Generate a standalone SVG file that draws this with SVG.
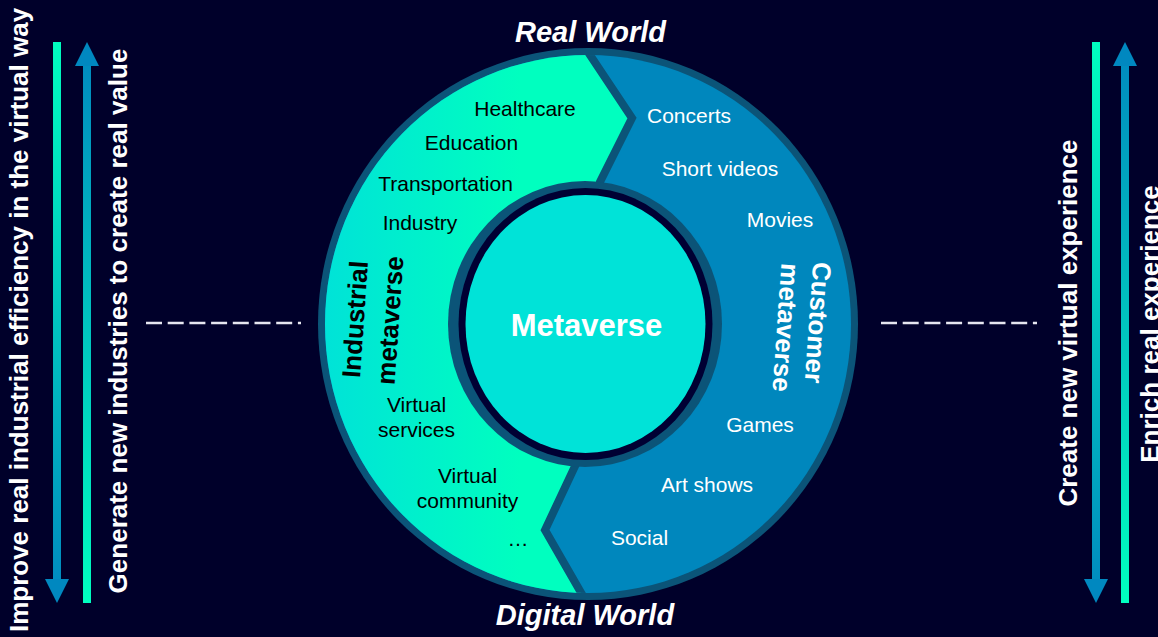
<svg xmlns="http://www.w3.org/2000/svg" width="1158" height="637" viewBox="0 0 1158 637">
<defs>
<style>
.t{font-family:"Liberation Sans",Arial,sans-serif;}
.side{font-size:26px;font-weight:bold;fill:#ffffff;text-anchor:middle;}
.world{font-size:29px;font-weight:bold;font-style:italic;fill:#ffffff;text-anchor:middle;}
.gl{font-size:21px;fill:#000000;text-anchor:middle;}
.bl{font-size:21px;fill:#ffffff;text-anchor:middle;}
.seg{font-size:26px;font-weight:bold;text-anchor:middle;}
.dash{stroke:#e6e6f0;stroke-width:2.5;stroke-dasharray:16 5.7;fill:none;}
.div{stroke:#0b5478;stroke-width:8;fill:none;stroke-linejoin:miter;}
</style>
<linearGradient id="gDown" gradientUnits="userSpaceOnUse" x1="0" y1="42" x2="0" y2="603">
<stop offset="0" stop-color="#00ffc0"/><stop offset="1" stop-color="#0088c0"/>
</linearGradient>
<linearGradient id="gUp" gradientUnits="userSpaceOnUse" x1="0" y1="42" x2="0" y2="603">
<stop offset="0" stop-color="#0088c0"/><stop offset="1" stop-color="#00ffc0"/>
</linearGradient>
<linearGradient id="green" gradientUnits="userSpaceOnUse" x1="320" y1="0" x2="520" y2="0">
<stop offset="0" stop-color="#00e2d8"/><stop offset="1" stop-color="#00ffbf"/>
</linearGradient>
<clipPath id="disc"><ellipse cx="588" cy="324" rx="263" ry="269"/></clipPath>
</defs>
<rect width="1158" height="637" fill="#00002a"/>

<g id="left-arrows">
<rect x="53" y="42" width="8" height="540" fill="url(#gDown)"/>
<polygon points="45,579 69,579 57,603" fill="#0088c0"/>
<rect x="83" y="64" width="8" height="539" fill="url(#gUp)"/>
<polygon points="75,66 99,66 87,42" fill="#0088c0"/>
<text class="t side" transform="translate(28,320) rotate(-90)">Improve real industrial efficiency in the virtual way</text>
<text class="t side" transform="translate(127,321) rotate(-90)">Generate new industries to create real value</text>
</g>

<g id="right-arrows">
<rect x="1092" y="42" width="8" height="540" fill="url(#gDown)"/>
<polygon points="1084,579 1108,579 1096,603" fill="#0088c0"/>
<rect x="1121" y="64" width="8" height="539" fill="url(#gUp)"/>
<polygon points="1113,66 1137,66 1125,42" fill="#0088c0"/>
<text class="t side" transform="translate(1077,323) rotate(-90)">Create new virtual experience</text>
<text class="t side" transform="translate(1159,324) rotate(-90)">Enrich real experience</text>
</g>

<g id="connectors">
<line class="dash" x1="146" y1="323" x2="301" y2="323"/>
<line class="dash" x1="881" y1="323" x2="1037" y2="323"/>
</g>

<g id="ring">
<ellipse cx="588" cy="324" rx="270" ry="276" fill="#0b5478"/>
<ellipse cx="588" cy="324" rx="263" ry="269" fill="#0087bd"/>
<g clip-path="url(#disc)">
<polygon points="0,40 580,40 632,118 600,182 590,324 577,462 545,530 591,610 0,610" fill="url(#green)"/>
<polyline class="div" points="580,40 632,118 600,182 595,230"/>
<polyline class="div" points="582,420 577,462 545,530 591,610"/>
</g>
</g>

<g id="industrial">
<text class="t gl" x="525" y="116">Healthcare</text>
<text class="t gl" x="471.5" y="150">Education</text>
<text class="t gl" x="445.5" y="191">Transportation</text>
<text class="t gl" x="420" y="230">Industry</text>
<text class="t gl" x="416.5" y="412">Virtual</text>
<text class="t gl" x="416.5" y="437">services</text>
<text class="t gl" x="467.5" y="483">Virtual</text>
<text class="t gl" x="467.5" y="508">community</text>
<text class="t gl" x="518" y="546">…</text>
<text class="t seg" fill="#000" transform="translate(364,320) rotate(-86)">Industrial</text>
<text class="t seg" fill="#000" transform="translate(399,321) rotate(-86)">metaverse</text>
</g>

<g id="customer">
<text class="t bl" x="689" y="123">Concerts</text>
<text class="t bl" x="720" y="176">Short videos</text>
<text class="t bl" x="780" y="227">Movies</text>
<text class="t bl" x="760" y="432">Games</text>
<text class="t bl" x="707" y="492">Art shows</text>
<text class="t bl" x="639.5" y="545">Social</text>
<text class="t seg" fill="#fff" transform="translate(809,322) rotate(94)">Customer</text>
<text class="t seg" fill="#fff" transform="translate(777,327) rotate(94)">metaverse</text>
</g>

<g id="metaverse">
<ellipse cx="585" cy="324" rx="137" ry="143" fill="#0b5478"/>
<ellipse cx="585.5" cy="324" rx="127" ry="136" fill="#000033"/>
<ellipse cx="585.5" cy="324" rx="120" ry="129" fill="#00e3d8"/>
<text class="t" x="586.5" y="336" font-size="31" font-weight="bold" fill="#fff" text-anchor="middle">Metaverse</text>
</g>

<g id="labels">
<text class="t world" x="590.5" y="42">Real World</text>
<text class="t world" x="585" y="625">Digital World</text>
</g>
</svg>
